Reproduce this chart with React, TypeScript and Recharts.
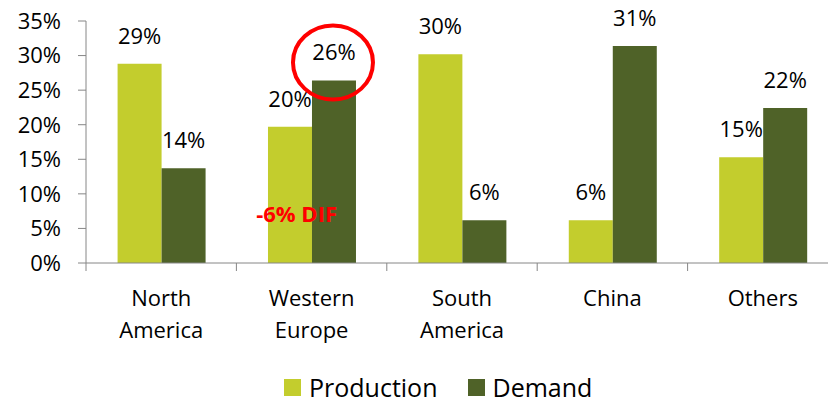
import { BarChart, Bar, XAxis, YAxis, LabelList, ReferenceDot } from 'recharts';

const categories = ['North America', 'Western Europe', 'South America', 'China', 'Others'];
const production = [28.8, 19.7, 30.2, 6.2, 15.3];
const demand = [13.7, 26.4, 6.2, 31.4, 22.4];
const yTicks = [0, 5, 10, 15, 20, 25, 30, 35];

const highlightCategory = 'Western Europe';
const diffLabel = '-6% DIF';
const diffLevel = 7.2;

const COLORS = { production: '#C3CD2D', demand: '#4F6228', axis: '#868686', red: '#FF0000' };
const FONT = '"Open Sans", sans-serif';

const CHART_W = 840;
const PLOT_LEFT = 86;
const PLOT_RIGHT = 2;
const BAND = (CHART_W - PLOT_LEFT - PLOT_RIGHT) / categories.length;

const data = categories.map((category, i) => ({
  category,
  Production: production[i],
  Demand: demand[i],
}));

function CategoryTick(props: any) {
  const { x, y, payload, index } = props;
  const words = String(payload.value).split(' ');
  return (
    <g>
      <line x1={x - BAND / 2} x2={x - BAND / 2} y1={y} y2={y + 8} stroke={COLORS.axis} />
      {index === categories.length - 1 && (
        <line x1={x + BAND / 2} x2={x + BAND / 2} y1={y} y2={y + 8} stroke={COLORS.axis} />
      )}
      <text x={x} y={y} textAnchor="middle" fontSize={22} fill="#000" fontFamily={FONT}>
        {words.map((w, i) => (
          <tspan key={i} x={x} dy={i === 0 ? 43 : 32}>{w}</tspan>
        ))}
      </text>
    </g>
  );
}

function makeValueLabel(highlight: boolean) {
  return (props: any) => {
    const { x, y, width, value, index } = props;
    const cx = x + width / 2;
    return (
      <g>
        <text x={cx} y={y - 20} textAnchor="middle" fontSize={22} fill="#000" fontFamily={FONT}>
          {`${Math.round(value)}%`}
        </text>
        {highlight && categories[index] === highlightCategory && (
          <ellipse cx={cx - 1} cy={y - 18} rx={40} ry={37} fill="none" stroke={COLORS.red} strokeWidth={4} />
        )}
      </g>
    );
  };
}

function DiffText(props: any) {
  const { cx, cy } = props;
  return (
    <text x={cx - 15} y={cy} textAnchor="middle" dominantBaseline="central" fontSize={22}
      fontWeight="bold" fill={COLORS.red} fontFamily={FONT}>
      {diffLabel}
    </text>
  );
}

export default function App() {
  return (
    <div style={{ position: 'absolute', left: 0, top: 0, width: 828, height: 400, overflow: 'hidden', background: '#fff', fontFamily: FONT }}>
      <BarChart
        width={CHART_W}
        height={400}
        data={data}
        margin={{ top: 21, right: PLOT_RIGHT, left: 0, bottom: 57 }}
        barCategoryGap="21%"
        barGap={0}
      >
        <YAxis
          width={PLOT_LEFT}
          domain={[0, 35]}
          ticks={yTicks}
          tickFormatter={(v) => `${v}%`}
          axisLine={{ stroke: COLORS.axis }}
          tickLine={{ stroke: COLORS.axis }}
          tickSize={8}
          tickMargin={17}
          tick={{ fill: '#000', fontSize: 22, fontFamily: FONT }}
        />
        <XAxis
          dataKey="category"
          height={80}
          axisLine={{ stroke: COLORS.axis }}
          tickLine={false}
          tickSize={0}
          tickMargin={0}
          interval={0}
          tick={<CategoryTick />}
        />
        <Bar dataKey="Production" fill={COLORS.production} isAnimationActive={false}>
          <LabelList dataKey="Production" content={makeValueLabel(false)} />
        </Bar>
        <Bar dataKey="Demand" fill={COLORS.demand} isAnimationActive={false}>
          <LabelList dataKey="Demand" content={makeValueLabel(true)} />
        </Bar>
        <ReferenceDot x={highlightCategory} y={diffLevel} r={0} shape={<DiffText />} />
      </BarChart>
      <div style={{ position: 'absolute', left: 284, top: 374, height: 26, display: 'flex', alignItems: 'center', fontSize: 25, lineHeight: '26px', color: '#000' }}>
        <span style={{ width: 17, height: 17, background: COLORS.production, display: 'inline-block', marginRight: 8 }} />
        <span style={{ marginRight: 30 }}>Production</span>
        <span style={{ width: 17, height: 17, background: COLORS.demand, display: 'inline-block', marginRight: 8 }} />
        <span>Demand</span>
      </div>
    </div>
  );
}
